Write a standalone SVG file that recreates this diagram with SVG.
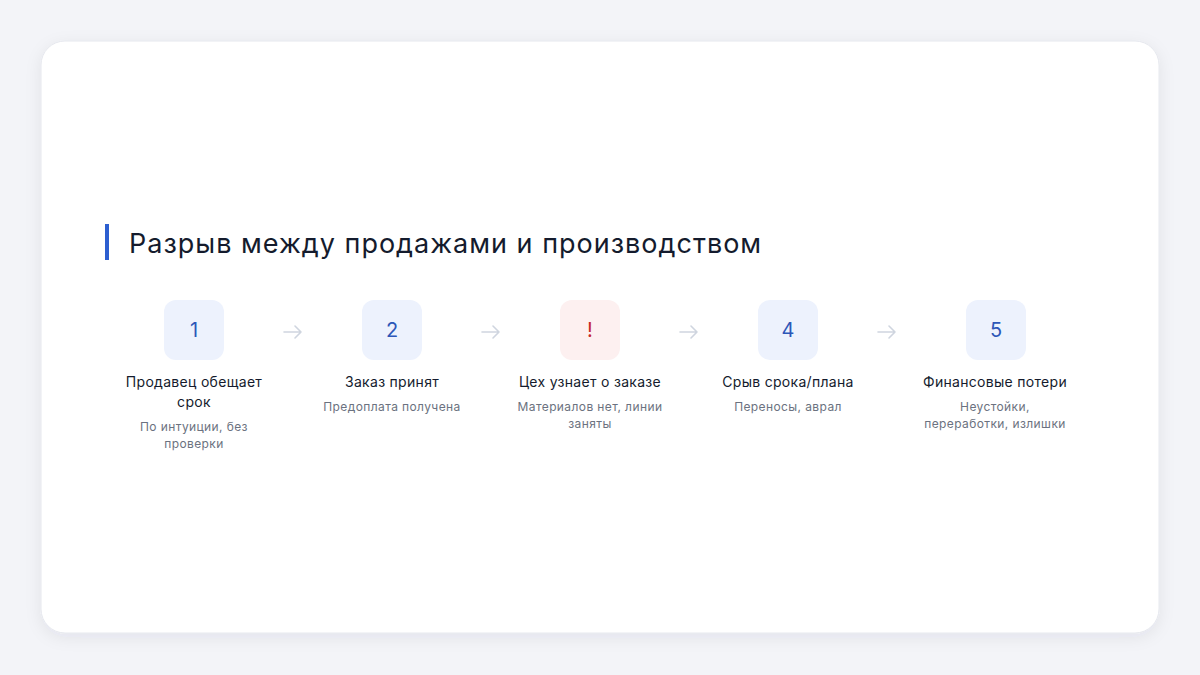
<svg xmlns="http://www.w3.org/2000/svg" width="1200" height="675" viewBox="0 0 1200 675">
<defs>
<filter id="sh" x="-10%" y="-10%" width="120%" height="130%">
<feDropShadow dx="0" dy="4" stdDeviation="8" flood-color="#1e2a4a" flood-opacity="0.07"/>
</filter>
<style>
.t{font-family:Inter,"Noto Sans",sans-serif;}
.title{font-size:27px;fill:#141b2d;letter-spacing:1px;}
.num{font-size:20px;fill:#2d57b8;text-anchor:middle;}
.lab{font-size:14px;fill:#141b2d;text-anchor:middle;letter-spacing:0.3px;}
.sub{font-size:12px;fill:#6b7280;text-anchor:middle;letter-spacing:0.4px;}
.box{fill:#edf2fd;}
.boxr{fill:#fdf0f0;}
.arr{fill:none;stroke:#cfd5df;stroke-width:1.6;stroke-linecap:round;stroke-linejoin:round;}
</style>
</defs>
<rect width="1200" height="675" fill="#f3f4f8"/>
<rect x="41" y="41" width="1118" height="592" rx="24" fill="#ffffff" stroke="#e6e8ee" stroke-width="1" filter="url(#sh)"/>
<g id="title">
<rect x="105" y="224" width="4" height="36" fill="#2d5fd0"/>
<text class="t title" x="129" y="253">Разрыв между продажами и производством</text>
</g>
<g id="connectors">
<path class="arr" d="M284 332H301M295 326L301 332L295 338"/>
<path class="arr" d="M482 332H499M493 326L499 332L493 338"/>
<path class="arr" d="M680 332H697M691 326L697 332L691 338"/>
<path class="arr" d="M878 332H895M889 326L895 332L889 338"/>
</g>
<g id="step1">
<rect class="box" x="164" y="300" width="60" height="60" rx="12"/>
<text class="t num" x="194" y="337">1</text>
<text class="t lab" x="194" y="387">Продавец обещает</text>
<text class="t lab" x="194" y="407">срок</text>
<text class="t sub" x="194" y="431">По интуиции, без</text>
<text class="t sub" x="194" y="448">проверки</text>
</g>
<g id="step2">
<rect class="box" x="362" y="300" width="60" height="60" rx="12"/>
<text class="t num" x="392" y="337">2</text>
<text class="t lab" x="392" y="387">Заказ принят</text>
<text class="t sub" x="392" y="411">Предоплата получена</text>
</g>
<g id="step3">
<rect class="boxr" x="560" y="300" width="60" height="60" rx="12"/>
<text class="t num" x="590" y="337" style="fill:#c62828">!</text>
<text class="t lab" x="590" y="387">Цех узнает о заказе</text>
<text class="t sub" x="590" y="411">Материалов нет, линии</text>
<text class="t sub" x="590" y="428">заняты</text>
</g>
<g id="step4">
<rect class="box" x="758" y="300" width="60" height="60" rx="12"/>
<text class="t num" x="788" y="337">4</text>
<text class="t lab" x="788" y="387">Срыв срока/плана</text>
<text class="t sub" x="788" y="411">Переносы, аврал</text>
</g>
<g id="step5">
<rect class="box" x="966" y="300" width="60" height="60" rx="12"/>
<text class="t num" x="996" y="337">5</text>
<text class="t lab" x="995" y="387">Финансовые потери</text>
<text class="t sub" x="995" y="411">Неустойки,</text>
<text class="t sub" x="995" y="428">переработки, излишки</text>
</g>
</svg>
